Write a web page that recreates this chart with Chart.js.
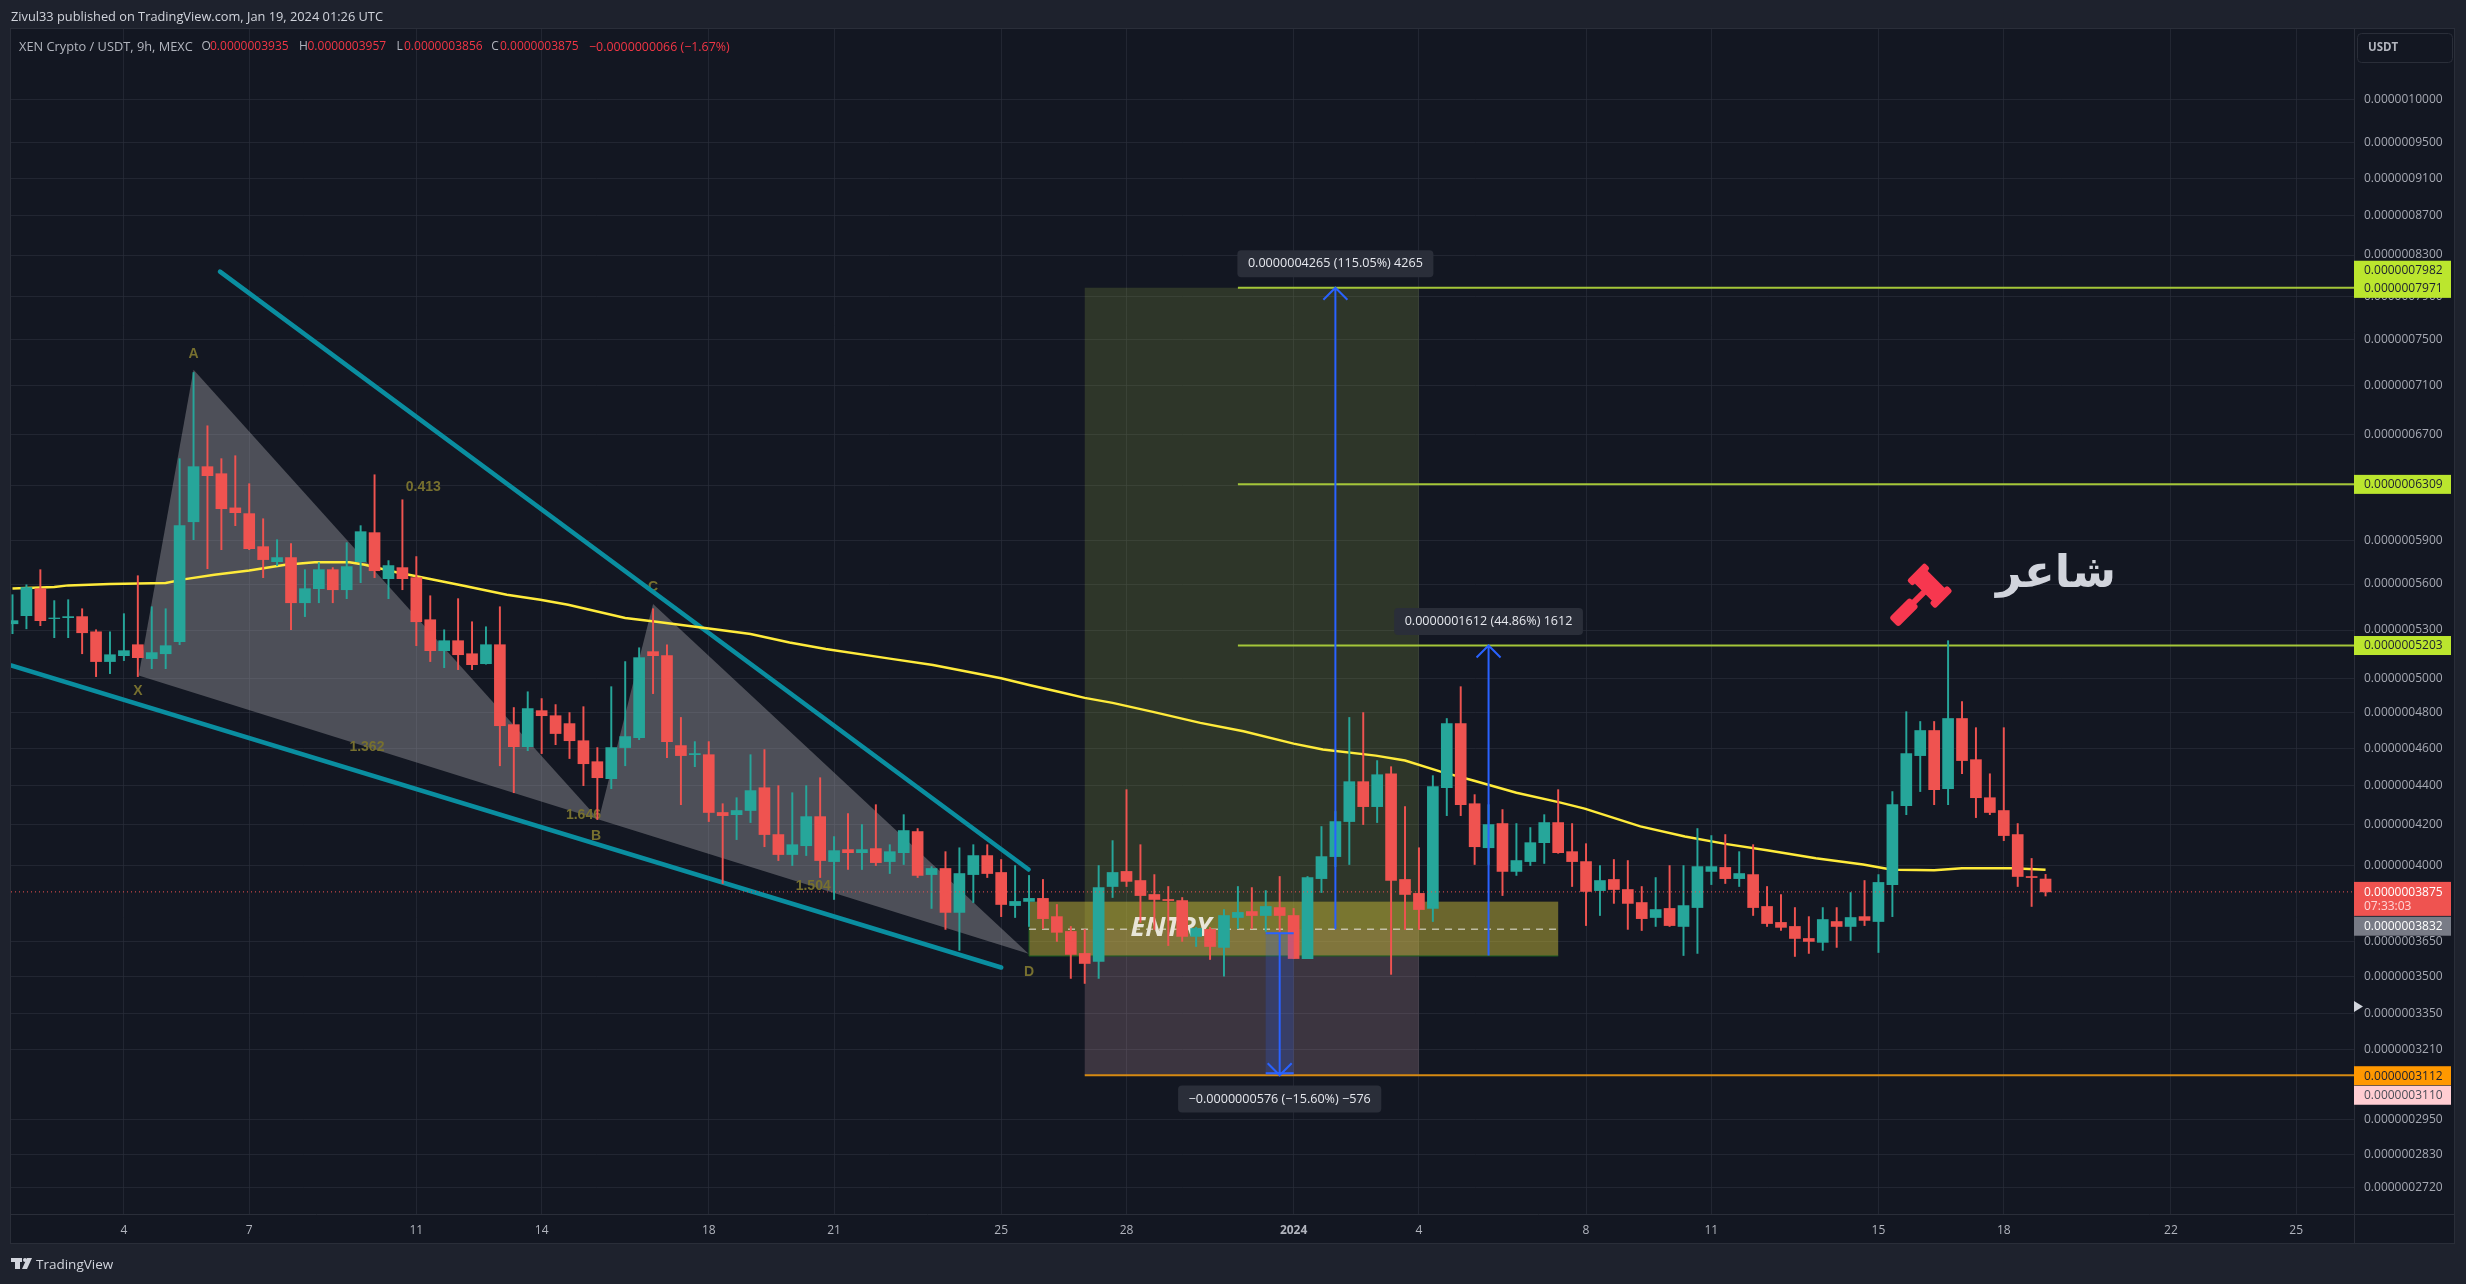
<!DOCTYPE html>
<html>
<head>
<meta charset="utf-8">
<title>XEN Crypto / USDT</title>
<script src="https://cdn.jsdelivr.net/npm/chart.js@4/dist/chart.umd.min.js"></script>
<style>
    html, body { margin: 0; padding: 0; background: #1e222d; overflow: hidden; }
    canvas { display: block; }
</style>
</head>
<body>
<canvas id="xenChart" width="2466" height="1284"></canvas>
<script>
// prices are in units of 0.0000000001 USDT, one entry per 9h candle
const opens = [5340,5392,5569,5373,5379,5386,5289,5104,5140,5208,5122,5152,5227,6033,6444,6390,6134,6092,5856,5752,5780,5476,5569,5697,5562,5752,5955,5636,5711,5643,5366,5171,5233,5152,5091,5208,4733,4610,4813,4784,4739,4643,4528,4437,4605,4660,5165,5140,4616,4566,4566,4261,4250,4271,4389,4150,4052,4095,4240,4018,4076,4061,4081,4018,4061,4165,3956,3985,3781,3956,4047,3966,3812,3831,3845,3762,3696,3600,3566,3900,3971,3928,3863,3840,3835,3674,3705,3626,3758,3785,3767,3803,3767,3578,3937,4042,4215,4421,4291,4463,3933,3868,3799,4389,4739,4306,4085,4205,3971,4018,4110,4210,4066,4018,3881,3933,3886,3826,3758,3799,3718,3803,3971,3990,3937,3956,3808,3736,3718,3665,3648,3740,3718,3762,3740,3909,4296,4561,4700,4384,4768,4539,4337,4271,4150,3947,3935]
const highs = [5529,5595,5697,5490,5496,5437,5302,5289,5405,5656,5450,5437,6506,7212,6767,6506,6529,6314,6055,5905,5877,5697,5745,5711,5884,6005,6382,5759,6194,5787,5522,5302,5503,5353,5321,5450,4831,4923,4883,4848,4802,4836,4605,4953,5104,5189,5437,5208,4774,4638,4638,4306,4337,4566,4594,4400,4363,4400,4442,4140,4255,4200,4301,4100,4250,4180,3994,4066,4085,4100,4100,4028,3999,3952,3933,3817,3718,3705,3999,4120,4379,4100,3956,3900,3849,3714,3714,3794,3900,3895,3881,3947,3799,3947,4190,4266,4774,4802,4534,4501,4291,4085,4453,4768,4953,4353,4301,4276,4205,4185,4250,4379,4205,4105,3999,4028,4023,3900,3942,3999,3999,4180,4145,4150,4066,4100,3900,3863,3803,3762,3803,3803,3872,3928,3956,4369,4807,4751,4751,5233,4865,4716,4463,4716,4205,4033,3957]
const lows = [5277,5308,5328,5252,5252,5152,5013,5031,5110,5013,5061,5061,5208,5905,5704,5835,6005,5835,5643,5725,5302,5386,5476,5476,5503,5609,5643,5503,5562,5202,5104,5067,5055,5055,5088,4506,4363,4588,4572,4621,4545,4400,4225,4384,4506,4649,4912,4550,4301,4501,4215,3914,4125,4210,4090,4023,3999,4047,3942,3840,3980,3980,3999,3961,4004,3942,3799,3705,3613,3826,3942,3762,3758,3718,3709,3652,3494,3473,3494,3849,3900,3736,3705,3634,3652,3630,3574,3503,3709,3709,3696,3696,3578,3578,3872,3994,4004,4200,4210,3511,3705,3705,3740,4245,4245,4004,4004,3858,3952,3999,4009,4058,3900,3722,3767,3822,3705,3700,3718,3718,3591,3600,3909,3914,3900,3767,3718,3700,3587,3600,3613,3626,3656,3722,3604,3762,4250,4369,4301,4301,4463,4235,4250,4120,3900,3808,3856]
const closes = [5360,5577,5360,5377,5386,5283,5104,5146,5171,5128,5159,5202,6005,6444,6375,6128,6099,5842,5766,5780,5476,5569,5697,5562,5718,5962,5690,5725,5636,5353,5171,5233,5146,5085,5208,4727,4610,4825,4784,4683,4643,4517,4442,4605,4666,5128,5140,4638,4561,4572,4261,4245,4271,4374,4150,4052,4100,4240,4023,4071,4061,4076,4013,4066,4170,3952,3985,3781,3961,4047,3961,3817,3831,3845,3753,3692,3596,3557,3895,3966,3924,3858,3840,3835,3674,3709,3630,3767,3781,3767,3808,3767,3578,3942,4042,4215,4421,4291,4458,3928,3863,3794,4395,4739,4301,4090,4200,3971,4023,4110,4210,4061,4018,3877,3928,3886,3822,3753,3794,3722,3812,3994,3994,3937,3961,3803,3731,3714,3665,3652,3749,3718,3758,3745,3919,4301,4572,4700,4379,4768,4534,4337,4261,4145,3947,3942,3875]

// moving average, read at its bends: candle index and price
const maIndex = [0,3,4,7,11,12.4,14.5,17,19.6,21.7,24.2,25.3,27.3,29.9,32.4,35.5,37.9,39.9,44,46.1,50.7,53,55.8,58.4,63,66.1,71,73,75.2,77,79,81.9,85.3,88.4,92,94.1,97.9,100,102.5,104.9,108,111.1,112.9,116.9,120.1,123,126,129.5,132.9,134.7,135.4,138,140,143.6,146]
const maValues = [5571,5580,5591,5600,5607,5633,5663,5692,5731,5747,5747,5731,5685,5636,5589,5529,5496,5463,5377,5355,5302,5275,5222,5181,5122,5083,5003,4963,4922,4887,4858,4806,4743,4696,4627,4594,4561,4534,4476,4427,4363,4313,4281,4191,4140,4104,4073,4034,4004,3983,3979,3977,3986,3986,3979]

const priceTicks = [10000,9500,9100,8700,8300,7900,7500,7100,6700,6300,5900,5600,5300,5000,4800,4600,4400,4200,4000,3650,3500,3350,3210,2950,2830,2720]
const timeTickIndex = [8,17,29,38,50,59,71,80,92,101,113,122,134,143,155,164]
const timeTickLabels = ["4","7","11","14","18","21","25","28","2024","4","8","11","15","18","22","25"]

// hand drawn objects on the chart, in candle index and price
const upperTrend = [[14.9,8137],[72.97,3980]]
const lowerTrend = [[-0.1,5080],[71,3540]]
const patternXAB = [[9.06,5020],[13,7237],[42.1,4225]]
const patternBCD = [[42.1,4225],[46,5468],[72.97,3599]]
const patternLabels = [["A",13,7376],["X",9,4929],["B",41.9,4142],["C",46,5576],["D",73,3521],["0.413",29.5,6291],["1.362",25.45,4610],["1.646",41,4250],["1.504",57.5,3900]]
const levels = [[88,7982,"#a4c639"],[88,6309,"#a4c639"],[88,5203,"#a4c639"],[77,3112,"#d68a12"]]
const measures = [[95,3706,7982,"0.0000004265 (115.05%) 4265",8215],[106,3591,5203,"0.0000001612 (44.86%) 1612",5355],[91,3688,3112,"\u22120.0000000576 (\u221215.60%) \u2212576",3025]]
const positionBox = { from: 77, to: 101, top: 7982, entry: 3706, bottom: 3112 }
const entryBox = { from: 73, to: 111, top: 3830, bottom: 3589, mid: 3706 }
const lastPrice = 3875

const priceTags = [
    { text: "0.0000007982", price: 7982, nudge: -17.5, bg: "#bbe62e", fg: "#1c2030" },
    { text: "0.0000007971", price: 7971, nudge: -0.5, bg: "#bbe62e", fg: "#1c2030" },
    { text: "0.0000006309", price: 6309, nudge: 0, bg: "#bbe62e", fg: "#1c2030" },
    { text: "0.0000005203", price: 5203, nudge: 0, bg: "#bbe62e", fg: "#1c2030" },
    { text: "0.0000003832", price: 3832, nudge: 25, bg: "#787b86", fg: "#ffffff" },
    { text: "0.0000003112", price: 3112, nudge: 0.5, bg: "#ff9800", fg: "#1c2030" },
    { text: "0.0000003110", price: 3110, nudge: 19.5, bg: "#ffcdd2", fg: "#4a4d57" }
]

const upColor = "#26a69a"
const downColor = "#ef5350"
const uiFont = '"Open Sans"'

const candleColors = closes.map((close, i) => close >= opens[i] ? upColor : downColor)
const toPoints = (pairs) => pairs.map((p) => ({ x: p[0], y: p[1] }))

const drawPolygon = (ctx, chart, corners, fill) => {
    const { x, y } = chart.scales
    ctx.beginPath()
    corners.forEach((c, i) => {
        if (i === 0) ctx.moveTo(x.getPixelForValue(c[0]), y.getPixelForValue(c[1]))
        else ctx.lineTo(x.getPixelForValue(c[0]), y.getPixelForValue(c[1]))
    })
    ctx.closePath()
    ctx.fillStyle = fill
    ctx.fill()
}

const drawBoxes = (ctx, chart) => {
    const { x, y } = chart.scales
    const fillBox = (from, to, top, bottom, fill) => {
        ctx.fillStyle = fill
        ctx.fillRect(x.getPixelForValue(from), y.getPixelForValue(top), x.getPixelForValue(to) - x.getPixelForValue(from), y.getPixelForValue(bottom) - y.getPixelForValue(top))
    }

    fillBox(positionBox.from, positionBox.to, positionBox.top, positionBox.entry, "rgba(154,178,69,0.2)")
    fillBox(positionBox.from, positionBox.to, positionBox.entry, positionBox.bottom, "rgba(224,173,184,0.2)")
    fillBox(entryBox.from, entryBox.to, entryBox.top, entryBox.bottom, "rgba(195,181,56,0.5)")

    // entry box edges and its dashed middle
    const left = x.getPixelForValue(entryBox.from)
    const right = x.getPixelForValue(entryBox.to)
    const bottom = y.getPixelForValue(entryBox.bottom)
    ctx.strokeStyle = "#1b5e20"
    ctx.lineWidth = 1
    ctx.beginPath()
    ctx.moveTo(left, y.getPixelForValue(entryBox.top))
    ctx.lineTo(left, bottom)
    ctx.lineTo(right, bottom)
    ctx.stroke()

    ctx.strokeStyle = "rgba(255,255,255,0.85)"
    ctx.setLineDash([7, 6])
    ctx.beginPath()
    ctx.moveTo(left, y.getPixelForValue(entryBox.mid))
    ctx.lineTo(right, y.getPixelForValue(entryBox.mid))
    ctx.stroke()
    ctx.setLineDash([])
}

const drawLevels = (ctx, chart) => {
    const { x, y } = chart.scales
    levels.forEach((level) => {
        ctx.strokeStyle = level[2]
        ctx.lineWidth = 2
        ctx.beginPath()
        ctx.moveTo(x.getPixelForValue(level[0]), y.getPixelForValue(level[1]))
        ctx.lineTo(chart.chartArea.right, y.getPixelForValue(level[1]))
        ctx.stroke()
    })
}

const drawMeasures = (ctx, chart) => {
    const { x, y } = chart.scales
    measures.forEach((m) => {
        const px = x.getPixelForValue(m[0])
        const start = y.getPixelForValue(m[1])
        const end = y.getPixelForValue(m[2])
        const dir = end < start ? 1 : -1

        // only the downward one has a visible span and end caps
        if (dir < 0) {
            ctx.fillStyle = "rgba(41,98,255,0.2)"
            ctx.fillRect(px - 14, start, 28, end - start)
            ctx.fillStyle = "#2962ff"
            ctx.fillRect(px - 14, start - 1, 28, 2)
            ctx.fillRect(px - 14, end - 3, 28, 2)
        }

        ctx.strokeStyle = "#2962ff"
        ctx.lineWidth = 2
        ctx.beginPath()
        ctx.moveTo(px, start)
        ctx.lineTo(px, end)
        ctx.moveTo(px - 12, end + dir * 12)
        ctx.lineTo(px, end)
        ctx.lineTo(px + 12, end + dir * 12)
        ctx.stroke()
    })
}

const drawMeasureLabels = (ctx, chart) => {
    const { x, y } = chart.scales
    ctx.font = "12.6px " + uiFont
    ctx.textAlign = "center"
    ctx.textBaseline = "middle"
    measures.forEach((m) => {
        const px = x.getPixelForValue(m[0])
        const py = y.getPixelForValue(m[4])
        const w = ctx.measureText(m[3]).width + 21
        ctx.fillStyle = "#2a2e39"
        ctx.beginPath()
        ctx.roundRect(px - w / 2, py - 13.5, w, 27, 4)
        ctx.fill()
        ctx.fillStyle = "#e6e8ee"
        ctx.fillText(m[3], px, py)
    })
}

const drawPatternLabels = (ctx, chart) => {
    const { x, y } = chart.scales
    ctx.font = 'bold 14px "Liberation Sans"'
    ctx.textAlign = "center"
    ctx.textBaseline = "middle"
    ctx.fillStyle = "#77702f"
    patternLabels.forEach((l) => {
        ctx.fillText(l[0], x.getPixelForValue(l[1]), y.getPixelForValue(l[2]))
    })
}

const drawGavel = (ctx) => {
    ctx.save()
    ctx.translate(1928.3, 585)
    ctx.rotate(Math.PI / 4)
    ctx.fillStyle = "#f7374f"
    ctx.beginPath()
    ctx.roundRect(-18.5, -13, 8, 25, 2.5)
    ctx.roundRect(13.5, -13, 8, 25, 2.5)
    ctx.rect(-11, -9.5, 25, 18)
    ctx.rect(-1, 8, 6, 15)
    ctx.roundRect(-4.5, 22, 13, 29, 3)
    ctx.fill()
    ctx.restore()
}

const drawFrame = (ctx, chart) => {
    const { left, right, top, bottom } = chart.chartArea
    ctx.strokeStyle = "#2a2e39"
    ctx.lineWidth = 1
    ctx.strokeRect(left - 0.5, top - 0.5, 2455 - left, 1244 - top)
    ctx.beginPath()
    ctx.moveTo(right + 0.5, top)
    ctx.lineTo(right + 0.5, 1244)
    ctx.moveTo(left, bottom + 0.5)
    ctx.lineTo(2455, bottom + 0.5)
    ctx.stroke()
}

const drawPriceTags = (ctx, chart) => {
    const { y } = chart.scales
    const { right } = chart.chartArea
    ctx.textAlign = "left"
    ctx.textBaseline = "middle"
    ctx.font = "12px " + uiFont
    priceTags.forEach((tag) => {
        const py = y.getPixelForValue(tag.price) + tag.nudge
        ctx.fillStyle = tag.bg
        ctx.fillRect(right, py - 9.5, 97, 19)
        ctx.fillStyle = tag.fg
        ctx.fillText(tag.text, 2364, py + 0.5)
    })

    // last price with countdown
    const lastY = y.getPixelForValue(lastPrice)
    ctx.fillStyle = downColor
    ctx.fillRect(right, lastY - 10, 97, 34)
    ctx.fillStyle = "#ffffff"
    ctx.fillText("0.0000003875", 2364, lastY + 0.5)
    ctx.fillStyle = "#ffd6d6"
    ctx.fillText("07:33:03", 2364, lastY + 15)

    ctx.fillStyle = "#d1d4dc"
    ctx.beginPath()
    ctx.moveTo(right, 1001)
    ctx.lineTo(right + 9, 1006.5)
    ctx.lineTo(right, 1012)
    ctx.closePath()
    ctx.fill()
}

const drawHeader = (ctx) => {
    ctx.textAlign = "left"
    ctx.textBaseline = "middle"
    ctx.font = "12.8px " + uiFont
    ctx.fillStyle = "#d1d4dc"
    ctx.fillText("Zivul33 published on TradingView.com, Jan 19, 2024 01:26 UTC", 11, 17)

    ctx.fillStyle = "#b2b5be"
    ctx.fillText("XEN Crypto / USDT, 9h, MEXC", 19, 47)
    ctx.font = "12px " + uiFont
    const legend = [["O", 201.5, "0.0000003935", 210], ["H", 299, "0.0000003957", 307.5], ["L", 396.4, "0.0000003856", 404], ["C", 491.3, "0.0000003875", 500]]
    legend.forEach((item) => {
        ctx.fillStyle = "#b2b5be"
        ctx.fillText(item[0], item[1], 47)
        ctx.fillStyle = "#f23645"
        ctx.fillText(item[2], item[3], 47)
    })
    ctx.fillStyle = "#f23645"
    ctx.font = "12.4px " + uiFont
    ctx.fillText("\u22120.0000000066 (\u22121.67%)", 589, 47)

    // USDT button
    ctx.fillStyle = "#131722"
    ctx.strokeStyle = "#2a2e39"
    ctx.beginPath()
    ctx.roundRect(2357.5, 33.5, 95, 29, 4)
    ctx.fill()
    ctx.stroke()
    ctx.fillStyle = "#b2b5be"
    ctx.font = "bold 11.5px " + uiFont
    ctx.fillText("USDT", 2368, 48)

    // TradingView mark
    ctx.fillStyle = "#d1d4dc"
    ctx.fillRect(11, 1258, 11, 4)
    ctx.fillRect(15, 1258, 5, 11)
    ctx.beginPath()
    ctx.arc(25, 1260, 2, 0, Math.PI * 2)
    ctx.fill()
    ctx.beginPath()
    ctx.moveTo(27, 1258)
    ctx.lineTo(32, 1258)
    ctx.lineTo(27, 1269)
    ctx.lineTo(22, 1269)
    ctx.closePath()
    ctx.fill()
    ctx.font = "13.5px " + uiFont
    ctx.fillText("TradingView", 36, 1265)
}

const xenDrawings = {
    id: "xenDrawings",
    beforeDatasetsDraw: (chart) => {
        const ctx = chart.ctx
        ctx.save()
        ctx.beginPath()
        ctx.rect(chart.chartArea.left, chart.chartArea.top, chart.chartArea.width, chart.chartArea.height)
        ctx.clip()

        drawBoxes(ctx, chart)
        drawPolygon(ctx, chart, patternXAB, "rgba(165,165,171,0.4)")
        drawPolygon(ctx, chart, patternBCD, "rgba(165,165,171,0.4)")
        drawLevels(ctx, chart)

        ctx.font = 'italic bold 27px "Open Sans"'
        ctx.textAlign = "center"
        ctx.textBaseline = "middle"
        ctx.fillStyle = "#e8e5d8"
        ctx.fillText("ENTRY", chart.scales.x.getPixelForValue(83.2), chart.scales.y.getPixelForValue(3709))

        drawPatternLabels(ctx, chart)
        drawGavel(ctx)

        ctx.font = 'bold 45px "DejaVu Sans"'
        ctx.direction = "rtl"
        ctx.textAlign = "center"
        ctx.fillStyle = "#d1d4dc"
        ctx.fillText("شاعر", 2056, 575)
        ctx.direction = "ltr"

        ctx.restore()
    },
    afterDatasetsDraw: (chart) => {
        const ctx = chart.ctx
        const { left, right } = chart.chartArea
        const lastY = chart.scales.y.getPixelForValue(lastPrice)
        ctx.save()
        ctx.strokeStyle = downColor
        ctx.lineWidth = 1
        ctx.setLineDash([1, 3])
        ctx.beginPath()
        ctx.moveTo(left, lastY)
        ctx.lineTo(right, lastY)
        ctx.stroke()
        ctx.setLineDash([])
        drawMeasures(ctx, chart)
        drawMeasureLabels(ctx, chart)
        ctx.restore()
    },
    afterDraw: (chart) => {
        const ctx = chart.ctx
        ctx.save()
        drawFrame(ctx, chart)
        drawPriceTags(ctx, chart)
        drawHeader(ctx)
        ctx.restore()
    }
}

const chartBackground = {
    id: "chartBackground",
    beforeDraw: (chart) => {
        const ctx = chart.ctx
        ctx.save()
        ctx.fillStyle = "#1e222d"
        ctx.fillRect(0, 0, chart.width, chart.height)
        ctx.fillStyle = "#131722"
        ctx.fillRect(11, 29, 2444, 1215)
        ctx.restore()
    }
}

const config = {
    type: "bar",
    data: {
        datasets: [
            {
                type: "bar",
                label: "Bodies",
                data: closes.map((close, i) => ({ x: i, y: [opens[i], close] })),
                backgroundColor: candleColors,
                barThickness: 11,
                grouped: false,
                order: 0
            },
            {
                type: "bar",
                label: "Wicks",
                data: highs.map((high, i) => ({ x: i, y: [lows[i], high] })),
                backgroundColor: candleColors,
                barThickness: 1.3,
                grouped: false,
                order: 1
            },
            {
                type: "line",
                label: "MA",
                data: maIndex.map((index, i) => ({ x: index, y: maValues[i] })),
                borderColor: "#ffeb3b",
                borderWidth: 2.5,
                pointRadius: 0,
                order: 2
            },
            {
                type: "line",
                label: "Upper trend",
                data: toPoints(upperTrend),
                borderColor: "#0a8ea0",
                borderWidth: 4.5,
                borderCapStyle: "round",
                pointRadius: 0,
                order: 3
            },
            {
                type: "line",
                label: "Lower trend",
                data: toPoints(lowerTrend),
                borderColor: "#0a8ea0",
                borderWidth: 4.5,
                borderCapStyle: "round",
                pointRadius: 0,
                order: 3
            }
        ]
    },
    options: {
        responsive: false,
        animation: false,
        events: [],
        layout: { padding: { left: 11, top: 29, right: 0, bottom: 0 } },
        plugins: { legend: { display: false }, tooltip: { enabled: false } },
        scales: {
            x: {
                type: "linear",
                offset: false,
                bounds: "data",
                min: -0.108,
                max: 168.15,
                afterBuildTicks: (axis) => { axis.ticks = timeTickIndex.map((value) => ({ value })) },
                afterFit: (axis) => { axis.height = 70 },
                grid: { offset: false, color: "rgba(42,46,57,0.7)", drawTicks: false },
                border: { display: false },
                ticks: {
                    autoSkip: false,
                    maxRotation: 0,
                    padding: 9,
                    color: "#b2b5be",
                    font: (ctx) => ({ family: "Open Sans", size: 12, weight: ctx.tick && ctx.tick.value === 92 ? "bold" : "normal" }),
                    callback: (value) => timeTickLabels[timeTickIndex.indexOf(value)]
                }
            },
            y: {
                type: "logarithmic",
                position: "right",
                bounds: "data",
                min: 2636,
                max: 10877,
                afterBuildTicks: (axis) => { axis.ticks = priceTicks.map((value) => ({ value })) },
                afterFit: (axis) => { axis.width = 112 },
                grid: { color: "rgba(42,46,57,0.7)", drawTicks: false },
                border: { display: false },
                ticks: {
                    autoSkip: false,
                    padding: 10,
                    color: "#a6a9b3",
                    font: { family: "Open Sans", size: 12 },
                    callback: (value) => (value * 1e-10).toFixed(10)
                }
            }
        }
    },
    plugins: [chartBackground, xenDrawings]
}

new Chart(document.getElementById("xenChart").getContext("2d"), config)
</script>
</body>
</html>
